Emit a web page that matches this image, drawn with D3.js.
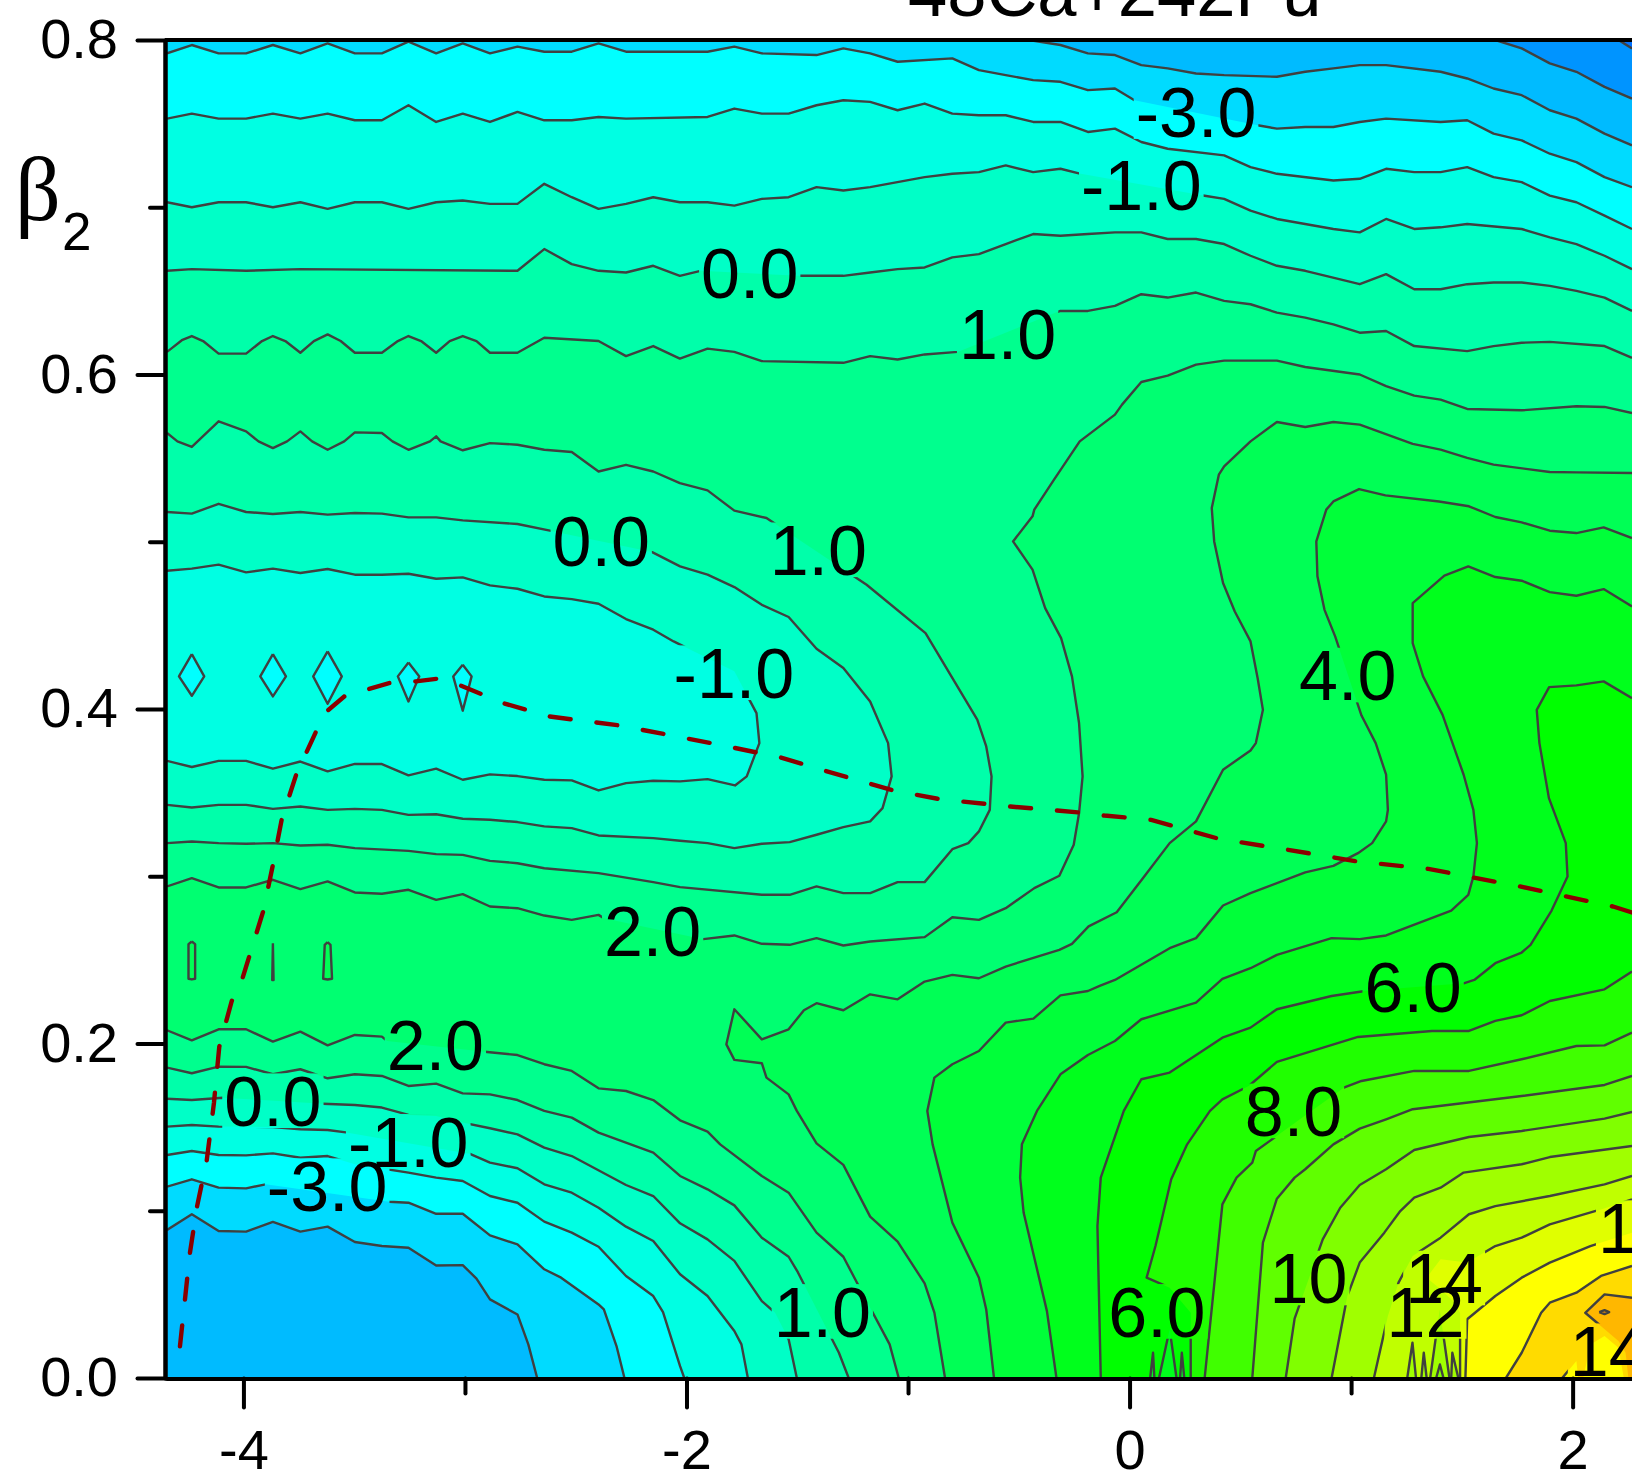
<!DOCTYPE html>
<html><head><meta charset="utf-8">
<style>html,body{margin:0;padding:0;background:#fff}svg{display:block}text{font-family:"Liberation Sans",Arial,sans-serif}</style>
<script src="https://cdn.jsdelivr.net/npm/d3@7"></script></head><body>
<script>
// contour levels and the band colour above each one
const levels=[-6,-5,-4,-3,-2,-1,0,1,2,3,4,5,6,7,8,9,10,11,12,13,14,15,16,17];
const bandColors=["#0094ff","#00bbff","#00dbff","#00ffff","#00ffe3","#00ffc7","#00ffaa","#00ff8e","#00ff71","#00ff55","#00ff39","#00ff1c","#00ff00","#20ff00","#40ff00","#60ff00","#80ff00","#a0ff00","#c0ff00","#e0ff00","#ffff00","#ffdb00","#ffb700","#ff9400"];
const belowColor="#0070ff";
const xTicksMajor=[-4,-2,0,2], xTicksMinor=[-3,-1,1], yTicksMajor=[0,.2,.4,.6,.8], yTicksMinor=[.1,.3,.5,.7];
// one flat [x,y,x,y...] list per contour piece: x = axis value, y = beta2
const lvlM6=[[2.207,.8,2.268,.795]];
const lvlM5=[[1.651,.8,1.77,.795,1.897,.786,2.017,.781,2.144,.772,2.268,.765]];
const lvlM4=[[-.454,.8,-.312,.797,-.188,.792,-.066,.791,.053,.785,.172,.783,.3,.78,.427,.779,.665,.778,.793,.781,.92,.783,1.039,.785,1.158,.785,1.404,.781,1.524,.777,1.643,.771,1.77,.767,1.897,.758,2.017,.753,2.144,.744,2.268,.737],
[-4.345,.0885,-4.233,.0979,-4.112,.0879,-3.988,.0875,-3.867,.0933,-3.743,.0875,-3.62,.0905,-3.497,.0813,-3.375,.0789,-3.255,.0779,-3.13,.0673,-3.01,.0675,-2.948,.0594,-2.887,.047,-2.763,.038,-2.714,.0201,-2.674,0]];
const lvlM3=[[-4.345,.792,-4.233,.797,-4.112,.792,-3.988,.792,-3.867,.797,-3.743,.792,-3.62,.798,-3.497,.792,-3.375,.792,-3.255,.799,-3.13,.792,-3.01,.798,-2.887,.792,-2.763,.796,-2.642,.793,-2.518,.793,-2.397,.798,-2.273,.793,-1.905,.793,-1.784,.796,-1.66,.792,-1.413,.791,-1.292,.795,-1.171,.792,-1.047,.787,-.8,.789,-.68,.782,-.559,.779,-.435,.776,-.312,.775,-.188,.77,-.066,.771,.022,.764,.578,.749,.665,.747,.793,.748,.92,.748,1.039,.751,1.158,.753,1.404,.751,1.524,.752,1.643,.744,1.77,.74,1.897,.732,2.017,.727,2.144,.718,2.268,.712],
[-4.345,.1144,-4.233,.1188,-4.112,.1138,-3.988,.1134,-3.9,.1158,-3.343,.1054,-3.255,.1048,-3.13,.0982,-3.01,.0982,-2.887,.0853,-2.763,.0799,-2.642,.065,-2.566,.06,-2.397,.044,-2.373,.041,-2.316,.0191,-2.28,0]];
const lvlM2=[[-4.345,.753,-4.233,.756,-4.112,.753,-3.988,.753,-3.867,.756,-3.743,.753,-3.62,.756,-3.497,.752,-3.375,.752,-3.255,.761,-3.13,.751,-3.01,.756,-2.887,.751,-2.763,.757,-2.642,.752,-2.518,.752,-2.397,.754,-2.273,.753,-1.905,.754,-1.784,.759,-1.66,.756,-1.539,.756,-1.413,.761,-1.292,.764,-1.171,.763,-1.047,.758,-.925,.762,-.8,.756,-.68,.755,-.559,.755,-.435,.751,-.312,.751,-.188,.745,-.066,.747,.053,.739,.172,.735,.427,.731,.546,.724,.665,.72,.92,.716,1.039,.717,1.158,.723,1.285,.721,1.404,.721,1.524,.724,1.643,.718,1.77,.715,1.897,.707,2.017,.703,2.144,.695,2.268,.687],
[-4.345,.1333,-4.233,.1357,-4.112,.1333,-3.988,.1331,-3.867,.1343,-3.743,.1317,-3.62,.1327,-3.497,.1278,-3.255,.1228,-3.13,.1198,-3.01,.1178,-2.887,.1088,-2.763,.1048,-2.642,.0935,-2.518,.0869,-2.397,.0785,-2.273,.061,-2.15,.049,-2.106,.0394,-2.029,.0071,-2.01,0],
[-4.233,.4328,-4.177,.4195,-4.233,.4079,-4.291,.4195,-4.233,.4328],
[-3.867,.4328,-3.808,.4195,-3.867,.4075,-3.924,.4195,-3.867,.4328],
[-3.62,.4344,-3.556,.4195,-3.62,.4031,-3.685,.4195,-3.62,.4344],
[-3.255,.4278,-3.206,.4195,-3.255,.4045,-3.303,.4195,-3.255,.4278],
[-3.01,.4265,-2.97,.4195,-3.01,.399,-3.053,.4195,-3.01,.4265]];
const lvlM1=[[-4.345,.703,-4.233,.7,-4.112,.703,-3.988,.703,-3.867,.7,-3.743,.703,-3.62,.699,-3.497,.703,-3.375,.703,-3.255,.699,-3.13,.703,-3.01,.704,-2.887,.702,-2.763,.702,-2.642,.714,-2.518,.706,-2.397,.699,-2.273,.702,-2.15,.706,-2.03,.703,-1.905,.703,-1.784,.701,-1.66,.705,-1.539,.706,-1.413,.712,-1.292,.71,-1.171,.712,-.925,.718,-.8,.72,-.68,.721,-.559,.725,-.435,.721,-.312,.723,-.22,.72,.332,.707,.427,.705,.546,.698,.665,.693,.92,.687,1.039,.685,1.158,.693,1.285,.687,1.404,.688,1.524,.69,1.77,.687,1.897,.682,2.017,.678,2.144,.671,2.268,.663],
[-4.345,.4827,-4.233,.4839,-4.112,.4863,-3.988,.4817,-3.867,.4839,-3.743,.4813,-3.62,.4837,-3.497,.4803,-3.375,.4803,-3.255,.4809,-3.13,.4779,-3.01,.4787,-2.887,.4739,-2.763,.4719,-2.642,.4673,-2.518,.4657,-2.397,.4629,-2.273,.4538,-2.15,.4474,-2.058,.4404,-1.784,.4225,-1.684,.3975,-1.671,.3796,-1.728,.3597,-1.781,.3543,-1.905,.3581,-2.029,.3567,-2.15,.3571,-2.273,.3557,-2.397,.3513,-2.518,.3573,-2.642,.3577,-2.763,.3599,-2.887,.3609,-3.01,.3577,-3.13,.3643,-3.255,.3603,-3.375,.3671,-3.497,.3672,-3.62,.3627,-3.743,.3686,-3.867,.3643,-3.988,.369,-4.112,.369,-4.233,.3653,-4.345,.369],
[-4.345,.1503,-4.233,.1513,-4.112,.1503,-3.867,.1501,-3.743,.1487,-3.62,.1483,-3.529,.1467,-2.98,.1341,-2.887,.1288,-2.763,.1254,-2.642,.1158,-2.518,.1108,-2.397,.1018,-2.273,.0905,-2.15,.0819,-2.029,.062,-1.905,.049,-1.784,.0281,-1.752,.0201,-1.723,0]];
const lvl0=[[-4.345,.662,-4.233,.663,-3.988,.662,-3.743,.663,-2.763,.662,-2.642,.675,-2.518,.666,-2.397,.662,-2.273,.661,-2.15,.665,-2.03,.659,-1.937,.662,-1.494,.659,-1.292,.659,-1.171,.661,-1.047,.663,-.925,.664,-.8,.67,-.68,.672,-.559,.678,-.435,.684,-.312,.683,-.188,.684,-.066,.685,.053,.685,.172,.681,.3,.681,.427,.678,.546,.671,.665,.665,.793,.662,1.039,.654,1.158,.66,1.285,.651,1.404,.651,1.524,.654,1.643,.655,1.77,.655,1.897,.653,2.017,.65,2.144,.646,2.268,.638],
[-4.345,.5178,-4.233,.5168,-4.112,.5227,-3.988,.5178,-3.867,.5166,-3.743,.5178,-3.62,.5162,-3.497,.5172,-3.375,.5168,-3.255,.5146,-3.13,.5146,-3.01,.5128,-2.763,.5106,-2.6,.5062,-2.155,.4938,-2.029,.4853,-1.905,.4803,-1.784,.4729,-1.66,.4623,-1.539,.455,-1.413,.436,-1.292,.4245,-1.171,.4045,-1.09,.3796,-1.074,.3597,-1.115,.3407,-1.171,.3328,-1.292,.3294,-1.413,.3248,-1.534,.3204,-1.66,.3194,-1.784,.3168,-1.905,.3198,-2.029,.3212,-2.15,.3228,-2.397,.3244,-2.518,.3288,-2.642,.3298,-2.763,.3324,-2.887,.3338,-3.01,.3344,-3.13,.3371,-3.255,.3367,-3.375,.3397,-3.497,.3403,-3.62,.3397,-3.743,.3417,-3.867,.3403,-3.988,.3427,-4.112,.3427,-4.233,.3411,-4.345,.3427],
[-4.345,.167,-4.233,.1662,-4.093,.1676,-3.642,.164,-3.497,.1632,-3.375,.1617,-3.255,.1573,-3.13,.1567,-3.01,.1527,-2.887,.1493,-2.763,.1457,-2.642,.1377,-2.518,.1327,-2.273,.1154,-2.15,.1088,-2.029,.0925,-1.905,.0829,-1.784,.07,-1.66,.046,-1.6,.039,-1.539,.0231,-1.502,0]];
const lvl1=[[-4.345,.6135,-4.278,.6205,-4.233,.623,-4.182,.62,-4.112,.6125,-3.988,.6125,-3.916,.62,-3.867,.623,-3.811,.62,-3.743,.613,-3.682,.62,-3.62,.624,-3.561,.62,-3.497,.613,-3.375,.613,-3.303,.62,-3.255,.623,-3.198,.62,-3.13,.613,-3.069,.62,-3.01,.623,-2.948,.62,-2.887,.613,-2.763,.613,-2.642,.622,-2.397,.62,-2.273,.611,-2.15,.617,-2.03,.6095,-1.905,.6155,-1.784,.6135,-1.66,.608,-1.292,.607,-1.171,.611,-1.047,.609,-.925,.612,-.776,.6135,-.333,.637,-.312,.638,-.188,.638,-.066,.641,.053,.648,.172,.646,.3,.649,.427,.644,.546,.642,.665,.637,.793,.634,.92,.63,1.039,.625,1.158,.626,1.285,.617,1.524,.614,1.643,.617,1.77,.619,1.897,.6195,2.144,.617,2.268,.61],
[-4.345,.565,-4.298,.56,-4.233,.5567,-4.112,.572,-3.988,.566,-3.932,.56,-3.867,.556,-3.803,.56,-3.743,.566,-3.69,.56,-3.62,.555,-3.545,.56,-3.497,.5654,-3.375,.565,-3.327,.56,-3.255,.555,-3.158,.56,-3.13,.563,-3.11,.56,-3.01,.5547,-2.887,.559,-2.763,.558,-2.642,.555,-2.518,.5537,-2.397,.542,-2.273,.546,-2.15,.542,-2.03,.535,-1.905,.5307,-1.784,.5186,-1.639,.5142,-1.187,.4743,-.921,.4454,-.6875,.3936,-.647,.3776,-.623,.3597,-.631,.3397,-.68,.3268,-.728,.3198,-.8,.3162,-.925,.2965,-1.047,.2965,-1.171,.2899,-1.292,.2899,-1.413,.2939,-1.534,.2889,-1.66,.2889,-2.029,.2935,-2.15,.2965,-2.397,.3019,-2.642,.3048,-2.763,.3078,-2.887,.3092,-3.01,.3128,-3.13,.3132,-3.255,.3152,-3.497,.3168,-3.62,.3188,-3.743,.3184,-3.867,.3198,-3.988,.3194,-4.112,.3198,-4.233,.3208,-4.345,.3198],
[-4.345,.1856,-4.233,.1822,-4.112,.1862,-3.988,.186,-3.867,.1816,-3.743,.1846,-3.62,.1792,-3.497,.1816,-3.375,.1806,-3.255,.1746,-3.13,.176,-3.01,.1702,-2.887,.1696,-2.763,.1662,-2.642,.1597,-2.518,.1557,-2.397,.1467,-2.15,.1347,-2.029,.1208,-1.905,.1128,-1.784,.1032,-1.66,.0839,-1.539,.0725,-1.498,.0634,-1.312,.0151,-1.268,0]];
const lvl2=[[2.268,.577,2.144,.5806,2.017,.581,1.77,.5786,1.524,.5794,1.404,.585,1.285,.5874,1.158,.593,1.039,.6,.793,.6045,.665,.6083,.427,.6083,.3,.6059,.172,.5993,.053,.5955,-.034,.582,-.066,.576,-.225,.56,-.341,.5371,-.43,.5192,-.438,.5152,-.526,.5002,-.438,.4833,-.381,.4603,-.309,.4424,-.26,.4195,-.228,.3916,-.212,.3597,-.228,.3377,-.252,.3188,-.317,.3003,-.43,.2929,-.559,.2809,-.68,.2739,-.8,.2755,-.925,.2636,-1.171,.261,-1.292,.2586,-1.413,.263,-1.534,.259,-1.66,.2596,-1.784,.2646,-1.924,.2624,-2.373,.2749,-2.397,.2769,-2.518,.2739,-2.642,.2765,-2.763,.2809,-2.887,.2819,-3.01,.2893,-3.13,.2859,-3.255,.2919,-3.375,.2895,-3.497,.2903,-3.62,.2969,-3.743,.2923,-3.867,.2979,-3.988,.2933,-4.112,.2933,-4.233,.2989,-4.345,.2939],
[-4.345,.2079,-4.233,.2019,-4.112,.2085,-3.988,.2085,-3.867,.2011,-3.743,.2071,-3.62,.1989,-3.497,.2051,-3.375,.2041,-3.351,.2015,-2.9,.1949,-2.763,.1931,-2.642,.1876,-2.518,.1836,-2.397,.1732,-2.273,.1716,-2.15,.1662,-2.029,.1541,-1.905,.1473,-1.848,.1397,-1.66,.1208,-1.539,.1108,-1.413,.0869,-1.292,.0725,-1.171,.042,-1.083,.0201,-1.042,0]];
const lvl3=[[2.268,.5411,2.017,.5415,1.897,.5417,1.643,.5461,1.524,.5501,1.404,.5551,1.278,.5585,1.039,.57,.92,.5716,.793,.5686,.665,.5716,.546,.56,.427,.5451,.403,.5401,.379,.5251,.371,.5202,.382,.5002,.422,.4753,.475,.4583,.546,.4404,.578,.4185,.602,.3995,.57,.3796,.546,.3752,.422,.3637,.3,.3328,.181,.3198,.061,.2989,-.058,.2785,-.185,.27,-.26,.2596,-.317,.256,-.559,.246,-.68,.239,-.8,.241,-.925,.237,-1.047,.2264,-1.171,.2294,-1.292,.2199,-1.413,.2241,-1.47,.2199,-1.539,.2085,-1.66,.2025,-1.784,.2205,-1.82,.1995,-1.784,.1902,-1.66,.1882,-1.639,.1796,-1.539,.1696,-1.502,.1597,-1.413,.1403,-1.292,.1274,-1.171,.0965,-1.047,.0815,-.925,.0566,-.881,.0391,-.833,0],
[-4.233,.261,-4.218,.2594,-4.218,.2387,-4.233,.2383,-4.248,.2387,-4.248,.2594,-4.233,.261],
[-3.867,.26,-3.864,.238,-3.87,.238,-3.867,.26],
[-3.62,.2606,-3.607,.259,-3.6,.2387,-3.62,.2383,-3.64,.2387,-3.633,.259,-3.62,.2606]];
const lvl4=[[2.268,.5022,2.14,.5086,2.017,.5052,1.897,.5066,1.77,.5116,1.651,.5148,1.532,.5212,1.397,.5241,1.155,.5277,1.036,.5315,.92,.5241,.888,.5192,.843,.5002,.848,.4793,.88,.4593,.928,.4434,1.047,.3961,1.111,.3796,1.158,.3607,1.166,.3397,1.158,.3328,1.095,.3198,1.031,.3138,.92,.3062,.793,.3023,.546,.2899,.422,.2825,.3,.263,.181,.257,-.066,.238,-.135,.2344,-.188,.2314,-.312,.2288,-.434,.2149,-.559,.2125,-.68,.1955,-.8,.1876,-.881,.1796,-.913,.1597,-.889,.1397,-.8,.0929,-.68,.06,-.647,.041,-.612,0]];
const lvl5=[[2.268,.4613,2.14,.4717,2.017,.4677,1.897,.4699,1.77,.4767,1.651,.4789,1.529,.4853,1.421,.4797,1.278,.4633,1.278,.4394,1.325,.4195,1.413,.3965,1.508,.3607,1.552,.3397,1.568,.3198,1.552,.2999,1.529,.2889,1.452,.2795,1.158,.2646,1.039,.2624,.912,.263,.665,.253,.546,.245,.419,.2387,.3,.2244,.053,.2145,-.066,.2015,-.188,.1931,-.312,.1816,-.418,.1597,-.486,.1397,-.494,.1198,-.478,.0988,-.373,.04,-.33,0]];
const lvl6=[[2.268,.4065,2.14,.4165,2.017,.4141,1.894,.4131,1.838,.3995,1.85,.3796,1.893,.3467,1.969,.3198,1.977,.2999,1.905,.2795,1.81,.259,1.77,.2544,1.651,.248,1.556,.238,1.508,.236,1.063,.2314,.912,.2284,.665,.2205,.546,.2095,.419,.2035,.181,.1826,.053,.1786,-.026,.1597,-.13,.1198,-.145,.0909,-.13,0],
[.093,0,.106,.0151,.112,0],[.133,0,.181,.0291,.212,0],[.228,0,.236,.0151,.247,0]];
const lvl7=[[2.268,.243,2.144,.2324,1.897,.2254,1.77,.2169,1.651,.2135,1.532,.2075,1.365,.2075,1.031,.2039,.665,.189,.538,.1746,.419,.1666,.363,.1597,.26,.1397,.188,.1188,.117,.0789,.077,.06,.181,.054,.276,.039,.276,0]];
const lvl8=[[2.268,.2065,2.144,.1989,2.017,.1985,1.77,.1906,1.532,.1836,1.285,.1836,1.047,.1776,.967,.1736,.57,.1357,.554,.1288,.483,.1198,.419,.1038,.339,0]];
const lvl9=[[2.268,.1806,2.144,.1752,1.77,.1686,1.278,.1607,1.158,.1547,1.039,.1491,.92,.1397,.793,.1248,.745,.1198,.665,.1072,.602,.0809,.554,0]];
const lvl10=[[2.268,.1591,2.144,.1551,1.77,.1477,1.532,.1441,1.285,.1363,1.158,.1248,1.039,.1154,.951,.1018,.872,.0829,.745,.0355,.705,0]];
const lvl11=[[2.268,.1387,1.897,.1321,1.77,.1278,1.508,.1228,1.404,.1138,1.285,.1078,1.222,.0998,1.15,.0869,1.039,.069,.983,.049,.912,0],
[1.384,0,1.401,.0081,1.417,0]];
const lvl12=[[2.268,.1208,2.144,.1158,1.897,.1088,1.651,.1028,1.532,.0979,1.404,.0839,1.278,.073,1.214,.057,1.166,.037,1.103,0],
[1.2535,0,1.277,.0211,1.293,0],[1.317,0,1.328,.0151,1.341,0],[1.357,0,1.4,.041,1.444,0],[1.452,0,1.457,.0151,1.484,0]];
const lvl13=[[2.268,.1068,2.128,.1008,1.897,.0919,1.77,.0839,1.651,.0789,1.524,.069,1.404,.071,1.341,.06,1.404,.053,1.46,.046,1.492,.039,1.492,0]];
const lvl14=[[2.268,.0869,2.08,.0789,1.897,.069,1.77,.06,1.651,.049,1.524,.0351,1.516,0]];
const lvl15=[[2.268,.067,2.128,.061,2.017,.051,1.897,.045,1.858,.039,1.77,.0151,1.699,0],
[1.953,0,2.017,.0101,2.025,0],[2.048,0,2.08,.0201,2.144,.0251,2.207,.0181,2.231,0]];
const lvl16=[[2.268,.048,2.144,.05,2.057,.039,2.207,.0221,2.239,.0151,2.2517,0]];
const lvl17=[[2.12,.0394,2.144,.0406,2.165,.0394,2.144,.0382,2.12,.0394]];
const levelArcs=[lvlM6,lvlM5,lvlM4,lvlM3,lvlM2,lvlM1,lvl0,lvl1,lvl2,lvl3,lvl4,lvl5,lvl6,lvl7,lvl8,lvl9,lvl10,lvl11,lvl12,lvl13,lvl14,lvl15,lvl16,lvl17];
// the dashed valley path
const valleyPath=[-4.2865,.019,-4.2413,.075,-4.209,.1028,-4.1655,.1302,-4.133,.1646,-4.109,.1981,-4.0527,.2254,-4.004,.2391,-3.911,.2789,-3.867,.3068,-3.827,.3341,-3.762,.3607,-3.674,.386,-3.621,.3989,-3.545,.4075,-3.343,.4155,-3.222,.4165,-3.126,.4181,-3.021,.4141,-2.827,.4035,-2.618,.3955,-2.305,.3902,-1.889,.3796,-1.579,.3712,-1.373,.363,-1.067,.3513,-.857,.3461,-.538,.3417,-.225,.3381,-.114,.3363,.098,.3337,.403,.3224,.716,.3158,1.031,.3088,1.349,.3044,1.762,.2939,2.183,.2819,2.268,.2783];
// contour labels
const labelText=["-3.0","-1.0","0.0","1.0","0.0","1.0","-1.0","2.0","4.0","6.0","8.0","10","12","14","6.0","14","14","2.0","0.0","-1.0","-3.0","1.0"];
const labelX=[.3,.053,-1.7146,-.5505,-2.385,-1.405,-1.786,-2.153,.985,1.28,.74,.808,1.336,1.42,.1233,2.163,2.29,-3.1336,-3.867,-3.256,-3.622,-1.387];
const labelY=[.7572,.7137,.6607,.6246,.5004,.4952,.4217,.2672,.4203,.2342,.1597,.0598,.0398,.0598,.0398,.0163,.0899,.1995,.1658,.1415,.115,.0398];

const XMIN=-4.345,XMAX=2.268,YMIN=0,YMAX=.8;
const W=1632,H=1476;
const x=d3.scaleLinear().domain([XMIN,XMAX]).range([167,1632]);
const y=d3.scaleLinear().domain([YMIN,YMAX]).range([1378,40]);
const svg=d3.select("body").append("svg").attr("width",W).attr("height",H).attr("viewBox",`0 0 ${W} ${H}`);
const line=d3.line().x(d=>x(d[0])).y(d=>y(d[1]));
const pairs=f=>d3.range(0,f.length,2).map(i=>[f[i],f[i+1]]);

// close an open contour along the plot frame so that even-odd filling gives the band partition
function perim(p){
  const dw=XMAX-XMIN,dh=YMAX-YMIN,[a,b]=p;
  const d=[b/dh,(XMAX-a)/dw,(YMAX-b)/dh,(a-XMIN)/dw];
  const e=d.indexOf(d3.min(d));
  return e===0?(a-XMIN)/dw:e===1?1+b/dh:e===2?2+(XMAX-a)/dw:3+(YMAX-b)/dh;
}
const corners=[[XMIN,YMIN],[XMAX,YMIN],[XMAX,YMAX],[XMIN,YMAX]];
function closeArc(pts){
  const s=pts[0],e=pts[pts.length-1];
  if(s[0]===e[0]&&s[1]===e[1])return pts;
  const ts=perim(s),te=perim(e),out=pts.slice();
  let stop=ts>te?ts:ts+4;
  for(let c=Math.floor(te)+1;c<stop;c++)out.push(corners[c%4]);
  return out;
}
function seedFor(L){
  if(L<=6)return[2.2,.3];
  if(L<=14)return[2.1,.07];
  if(L===15)return[2.1,.05];
  if(L===16)return[2.2,.035];
  return[2.144,.0394];
}
const defs=svg.append("defs");
defs.append("clipPath").attr("id","plot").append("rect").attr("x",x(XMIN)).attr("y",y(YMAX)).attr("width",x(XMAX)-x(XMIN)).attr("height",y(YMIN)-y(YMAX));

const fills=svg.append("g").attr("clip-path","url(#plot)");
fills.append("rect").attr("x",x(XMIN)).attr("y",y(YMAX)).attr("width",x(XMAX)-x(XMIN)).attr("height",y(YMIN)-y(YMAX)).attr("fill",belowColor);
const rectPoly=[[XMIN,YMIN],[XMAX,YMIN],[XMAX,YMAX],[XMIN,YMAX]];
levels.forEach((L,i)=>{
  const polys=levelArcs[i].map(f=>closeArc(pairs(f)));
  const seed=seedFor(L);
  const n=polys.filter(p=>d3.polygonContains(p,seed)).length;
  if(n%2===0)polys.push(rectPoly);
  fills.append("path").attr("d",polys.map(p=>line(p)+"Z").join("")).attr("fill-rule","evenodd").attr("fill",bandColors[i]);
});

// contour lines, masked where the labels sit
const mask=defs.append("mask").attr("id","gaps").attr("maskUnits","userSpaceOnUse").attr("x",0).attr("y",0).attr("width",W).attr("height",H);
mask.append("rect").attr("width",W).attr("height",H).attr("fill","#fff");
const lines=svg.append("g").attr("clip-path","url(#plot)").append("g").attr("mask","url(#gaps)");
levelArcs.forEach(arcs=>arcs.forEach(f=>{
  lines.append("path").attr("d",line(pairs(f))).attr("fill","none").attr("stroke","#404040").attr("stroke-width",2.4).attr("stroke-linejoin","round");
}));

// dashed path
svg.append("g").attr("clip-path","url(#plot)").append("path").attr("d",line(pairs(valleyPath))).attr("fill","none").attr("stroke","#8b0000").attr("stroke-width",4.4).attr("stroke-linecap","round").attr("stroke-dasharray","21 26");

// labels
const LABEL=70;
const labs=svg.append("g").attr("font-size",LABEL).attr("fill","#000").attr("text-anchor","middle");
labelText.forEach((t,i)=>{
  const el=labs.append("text").attr("x",x(labelX[i])).attr("y",y(labelY[i])).attr("dy",".36em").text(t);
  const w=el.node().getComputedTextLength();
  mask.append("rect").attr("x",x(labelX[i])-w/2-2).attr("y",y(labelY[i])-LABEL*.39).attr("width",w+4).attr("height",LABEL*.78).attr("fill","#000");
});

// axes
const FS=56;
function style(g){
  g.selectAll("text").attr("font-size",FS).attr("fill","#000").attr("font-family",'"Liberation Sans",Arial,sans-serif');
  g.selectAll("line,path").attr("stroke","#000").attr("stroke-width",4).attr("stroke-linecap","round");
}
svg.append("g").attr("transform","translate(165,0)").call(d3.axisLeft(y).tickValues(yTicksMinor).tickSize(15).tickSizeOuter(0).tickFormat("")).call(style);
svg.append("g").attr("transform","translate(165,0)").call(d3.axisLeft(y).tickValues(yTicksMajor).tickSize(27.5).tickSizeOuter(0).tickPadding(19.5).tickFormat(d=>d.toFixed(1))).call(style);
svg.append("g").attr("transform","translate(0,1378.5)").call(d3.axisBottom(x).tickValues(xTicksMinor).tickSize(15).tickSizeOuter(0).tickFormat("")).call(style);
svg.append("g").attr("transform","translate(0,1378.5)").call(d3.axisBottom(x).tickValues(xTicksMajor).tickSize(29).tickSizeOuter(0).tickPadding(21.7).tickFormat(d=>String(d))).call(style);
svg.append("line").attr("x1",x(XMIN)-2).attr("x2",W).attr("y1",y(YMAX)).attr("y2",y(YMAX)).attr("stroke","#000").attr("stroke-width",4);

// title and axis name
svg.append("text").attr("x",908).attr("y",15.5).attr("font-size",70.5).text("48Ca+242Pu");
svg.append("text").attr("x",15).attr("y",220).attr("font-size",90).style("font-family",'"Liberation Serif",serif').text("β");
svg.append("text").attr("x",62).attr("y",250).attr("font-size",53).text("2");
</script></body></html>
